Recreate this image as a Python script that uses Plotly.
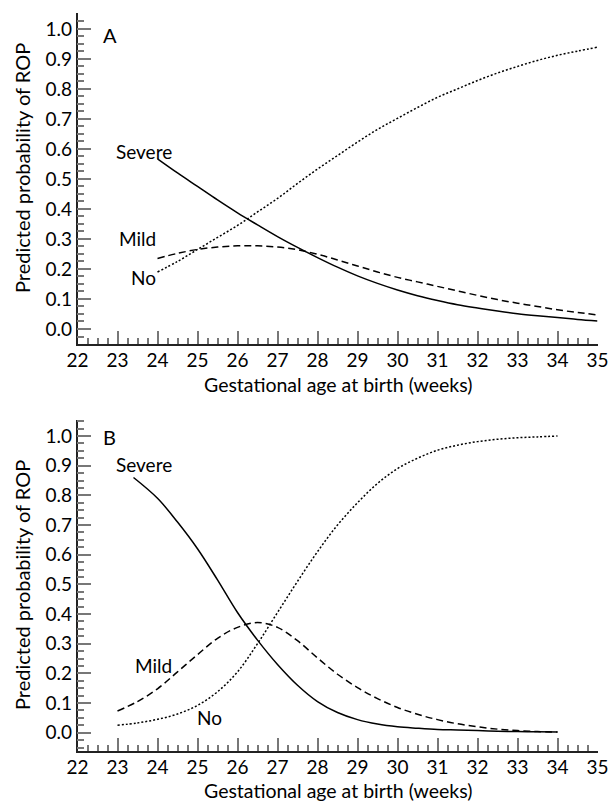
import plotly.graph_objects as go

# ---------------- Panel A data ----------------
weeks_a = [24, 24.5, 25, 25.5, 26, 26.5, 27, 27.5, 28, 28.5, 29, 29.5,
           30, 30.5, 31, 31.5, 32, 32.5, 33, 33.5, 34, 34.5, 35]
severe_a = [0.567, 0.52, 0.475, 0.43, 0.387, 0.347, 0.308, 0.272, 0.238, 0.206, 0.177, 0.152,
            0.13, 0.111, 0.095, 0.081, 0.07, 0.06, 0.051, 0.044, 0.038, 0.032, 0.027]
mild_a = [0.235, 0.252, 0.265, 0.273, 0.277, 0.277, 0.273, 0.264, 0.249, 0.23, 0.21, 0.19,
          0.172, 0.157, 0.142, 0.127, 0.112, 0.098, 0.086, 0.075, 0.064, 0.055, 0.047]
no_a = [0.19, 0.225, 0.265, 0.305, 0.345, 0.39, 0.435, 0.485, 0.533, 0.578, 0.623, 0.665,
        0.702, 0.738, 0.772, 0.80, 0.828, 0.853, 0.875, 0.895, 0.912, 0.926, 0.939]

# ---------------- Panel B data ----------------
weeks_b = [23, 23.5, 24, 24.5, 25, 25.5, 26, 26.5, 27, 27.5, 28, 28.5,
           29, 29.5, 30, 30.5, 31, 31.5, 32, 32.5, 33, 33.5, 34]
weeks_b_severe = [23.4, 24, 24.5, 25, 25.5, 26, 26.5, 27, 27.5, 28, 28.5,
                  29, 29.5, 30, 30.5, 31, 31.5, 32, 32.5, 33, 33.5, 34]
severe_b = [0.86, 0.79, 0.71, 0.62, 0.515, 0.405, 0.312, 0.23, 0.16, 0.105, 0.068,
            0.044, 0.029, 0.02, 0.015, 0.011, 0.009, 0.007, 0.005, 0.004, 0.003, 0.002]
mild_b = [0.073, 0.105, 0.148, 0.205, 0.263, 0.318, 0.355, 0.371, 0.355, 0.31, 0.252, 0.197,
          0.152, 0.115, 0.085, 0.062, 0.044, 0.03, 0.02, 0.012, 0.007, 0.004, 0.002]
no_b = [0.025, 0.033, 0.045, 0.063, 0.092, 0.138, 0.205, 0.30, 0.405, 0.51, 0.61, 0.70,
        0.775, 0.84, 0.89, 0.925, 0.952, 0.969, 0.981, 0.989, 0.994, 0.997, 1.0]

x_ticks = list(range(22, 36))
y_ticks = [i / 10 for i in range(0, 11)]

FONT = "Lato"
W, H = 610, 803

def px_x(p):
    return p / W

def px_y(p):
    return 1 - p / H

fig = go.Figure()

line_solid = dict(color="black", width=1.5, dash="solid", shape="spline")
line_dash = dict(color="black", width=1.5, dash="7px,4px", shape="spline")
line_dot = dict(color="black", width=1.5, dash="2px,2px", shape="spline")

fig.add_trace(go.Scatter(x=weeks_a, y=severe_a, mode="lines", line=line_solid, xaxis="x", yaxis="y"))
fig.add_trace(go.Scatter(x=weeks_a, y=mild_a, mode="lines", line=line_dash, xaxis="x", yaxis="y"))
fig.add_trace(go.Scatter(x=weeks_a, y=no_a, mode="lines", line=line_dot, xaxis="x", yaxis="y"))

fig.add_trace(go.Scatter(x=weeks_b_severe, y=severe_b, mode="lines", line=line_solid, xaxis="x2", yaxis="y2"))
fig.add_trace(go.Scatter(x=weeks_b, y=mild_b, mode="lines", line=line_dash, xaxis="x2", yaxis="y2"))
fig.add_trace(go.Scatter(x=weeks_b, y=no_b, mode="lines", line=line_dot, xaxis="x2", yaxis="y2"))

xdom = [px_x(77.5), px_x(597.5)]

def xaxis_cfg(anchor):
    return dict(
        domain=xdom, range=[22, 35], anchor=anchor,
        tickmode="array", tickvals=x_ticks, ticktext=[str(t) for t in x_ticks],
        ticks="inside", ticklen=13, tickwidth=1.5, tickcolor="#777",
        showline=True, linecolor="#222", linewidth=1.5, mirror=False,
        showgrid=False, zeroline=False,
        tickfont=dict(family=FONT, size=19, color="black"),
        ticklabelstandoff=-2,
        minor=dict(dtick=0.25, tick0=22, ticks="inside", ticklen=6, tickwidth=1.5,
                   tickcolor="#777", showgrid=False),
        automargin=False,
    )

def yaxis_cfg(anchor, dom, rng):
    return dict(
        domain=dom, range=rng, anchor=anchor,
        tickmode="array", tickvals=y_ticks, ticktext=[f"{t:.1f}" for t in y_ticks],
        ticks="inside", ticklen=14, tickwidth=1.5, tickcolor="#777",
        showline=True, linecolor="#222", linewidth=1.5, mirror=False,
        showgrid=False, zeroline=False,
        tickfont=dict(family=FONT, size=19, color="black"),
        minor=dict(dtick=0.025, tick0=0, ticks="inside", ticklen=7, tickwidth=1.5,
                   tickcolor="#777", showgrid=False),
        automargin=False,
    )

fig.update_layout(
    width=W, height=H,
    margin=dict(l=0, r=0, t=0, b=0),
    paper_bgcolor="white", plot_bgcolor="white",
    showlegend=False,
    xaxis=xaxis_cfg("y"),
    yaxis=yaxis_cfg("x", [px_y(344), px_y(13)], [-0.05, 1.053]),
    xaxis2=xaxis_cfg("y2"),
    yaxis2=yaxis_cfg("x2", [px_y(751), px_y(420)], [-0.0617, 1.0539]),
)

def ann(text, x, y, xref, yref, size=19, angle=0):
    fig.add_annotation(text=text, x=x, y=y, xref=xref, yref=yref, showarrow=False,
                       font=dict(family=FONT, size=size, color="black"),
                       xanchor="center", yanchor="middle", textangle=angle)

# Panel labels and curve labels
ann("A", 22.8, 0.98, "x", "y", size=20)
ann("Severe", 23.65, 0.59, "x", "y")
ann("Mild", 23.51, 0.30, "x", "y")
ann("No", 23.66, 0.173, "x", "y")

ann("B", 22.79, 0.997, "x2", "y2", size=20)
ann("Severe", 23.66, 0.904, "x2", "y2")
ann("Mild", 23.89, 0.226, "x2", "y2")
ann("No", 25.31, 0.05, "x2", "y2")

# Axis titles
ann("Predicted probability of ROP", px_x(22), px_y(168), "paper", "paper", size=20, angle=-90)
ann("Predicted probability of ROP", px_x(22), px_y(585), "paper", "paper", size=20, angle=-90)
ann("Gestational age at birth (weeks)", px_x(338), px_y(385), "paper", "paper", size=19.5)
ann("Gestational age at birth (weeks)", px_x(338), px_y(790), "paper", "paper", size=19.5)

fig.write_html("out.html")
